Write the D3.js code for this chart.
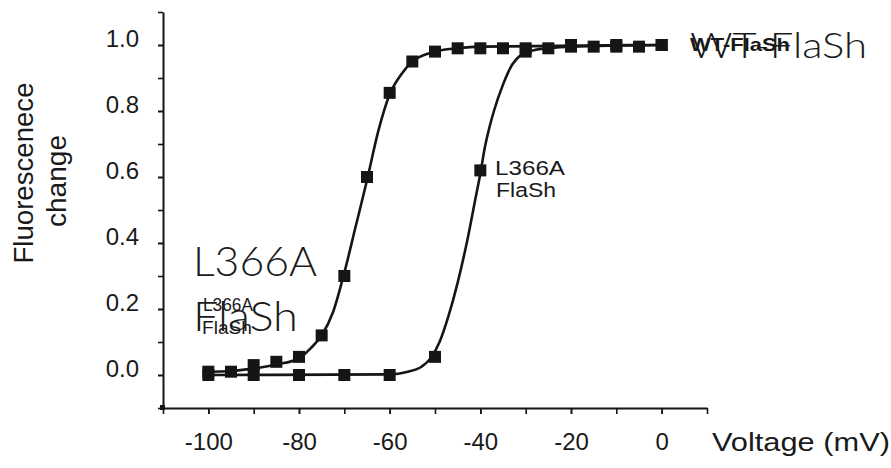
<!DOCTYPE html>
<html>
<head>
<meta charset="utf-8">
<script src="https://cdn.jsdelivr.net/npm/d3@7"></script>
<style>
  body { margin: 0; background: #fff; }
  svg { display: block; }
  text { font-family: Arial, "Liberation Sans", sans-serif; fill: #1a1a1a; }
  .thin { font-family: Lato, "Open Sans", sans-serif; font-weight: 300; }
</style>
</head>
<body>
<svg id="chart" width="891" height="468"></svg>
<script>
// tick labels
var xTicks = [-100, -80, -60, -40, -20, 0];
var xMinor = [-110, -100, -90, -80, -70, -60, -50, -40, -30, -20, -10, 0, 10];
var yTicks = [0, 0.2, 0.4, 0.6, 0.8, 1.0];
var yMinor = [-0.1, 0, 0.1, 0.2, 0.3, 0.4, 0.5, 0.6, 0.7, 0.8, 0.9, 1.0, 1.1];

// left curve (squares every 5 mV)
var wtVolts = [-100, -95, -90, -85, -80, -75, -70, -65, -60, -55, -50, -45, -40, -35, -30, -25, -20, -15, -10, -5, 0];
var wtVals  = [0.01, 0.01, 0.03, 0.04, 0.055, 0.12, 0.30, 0.60, 0.855, 0.95, 0.98, 0.99, 0.99, 0.99, 0.99, 0.99, 0.995, 0.995, 0.995, 0.995, 1.0];
// left fitted line
var wtFitVolts = [-100, -95, -90, -85, -80, -77.5, -75, -72.5, -70, -67.5, -65, -62.5, -60, -57.5, -55, -50, -45, -40, 0];
var wtFitVals  = [0.01, 0.012, 0.02, 0.032, 0.05, 0.08, 0.12, 0.19, 0.31, 0.45, 0.59, 0.74, 0.85, 0.91, 0.95, 0.98, 0.99, 0.995, 1.0];

// right curve (squares every 10 mV)
var mutVolts = [-100, -90, -80, -70, -60, -50, -40, -30, -20, -10, 0];
var mutVals  = [0.0, 0.0, 0.0, 0.0, 0.0, 0.055, 0.62, 0.98, 1.0, 1.0, 1.0];
var mutFitVolts = [-100, -60, -56, -53, -51, -49, -47, -45, -43, -41, -40, -39, -38, -37, -35, -33, -31, -28, -25, -20, 0];
var mutFitVals  = [0.0, 0.002, 0.01, 0.025, 0.05, 0.1, 0.18, 0.28, 0.40, 0.54, 0.61, 0.69, 0.75, 0.80, 0.88, 0.94, 0.97, 0.985, 0.99, 0.995, 1.0];

var svg = d3.select('#chart');
var ink = '#151515';

var x = d3.scaleLinear().domain([-110, 10]).range([163, 707]);
var y = d3.scaleLinear().domain([-0.1, 1.1]).range([408, 12]);

//////////
// Axes //
//////////

var styleAxis = function(g) {
  g.selectAll('path.domain').attr('stroke', ink).attr('stroke-width', 2);
  g.selectAll('line').attr('stroke', ink).attr('stroke-width', 1.6);
  g.selectAll('text').attr('fill', '#1a1a1a').style('font-size', '24px')
    .attr('font-family', null);
};

svg.append('g')
  .attr('transform', 'translate(0,408)')
  .call(d3.axisBottom(x).tickValues(xMinor).tickSize(6).tickSizeOuter(0).tickFormat(''))
  .call(styleAxis);

// plain hyphen, as in the original figure
svg.append('g')
  .attr('transform', 'translate(0,408)')
  .call(d3.axisBottom(x).tickValues(xTicks).tickSize(6).tickPadding(19).tickSizeOuter(0)
    .tickFormat(function(d) { return String(d); }))
  .call(styleAxis)
  .call(function(g) { g.select('path.domain').remove(); });

svg.append('g')
  .attr('transform', 'translate(163,0)')
  .call(d3.axisLeft(y).tickValues(yMinor).tickSize(5).tickSizeOuter(0).tickFormat(''))
  .call(styleAxis);

svg.append('g')
  .attr('transform', 'translate(163,0)')
  .call(d3.axisLeft(y).tickValues(yTicks).tickSize(5).tickPadding(19).tickFormat(d3.format('.1f')))
  .call(styleAxis)
  .call(function(g) {
    g.select('path.domain').remove();
    g.selectAll('text').attr('dy', '0.05em');
  });

// small blob at the origin corner
svg.append('rect')
  .attr('x', 160).attr('y', 405).attr('width', 5).attr('height', 5)
  .attr('fill', ink);

// axis titles
svg.append('text')
  .attr('x', 712).attr('y', 451)
  .attr('textLength', 178).attr('lengthAdjust', 'spacingAndGlyphs')
  .style('font-size', '25px')
  .text('Voltage (mV)');

svg.append('text')
  .attr('transform', 'translate(33,173) rotate(-90)')
  .attr('text-anchor', 'middle')
  .attr('textLength', 181).attr('lengthAdjust', 'spacingAndGlyphs')
  .style('font-size', '27px')
  .text('Fluorescenece');

svg.append('text')
  .attr('transform', 'translate(66,181) rotate(-90)')
  .attr('text-anchor', 'middle')
  .attr('textLength', 92).attr('lengthAdjust', 'spacingAndGlyphs')
  .style('font-size', '27px')
  .text('change');

///////////
// Lines //
///////////

var line = d3.line()
  .x(function(d) { return x(d[0]); })
  .y(function(d) { return y(d[1]); })
  .curve(d3.curveMonotoneX);

var drawSeries = function(fitV, fitY, volts, vals) {
  svg.append('path')
    .datum(d3.zip(fitV, fitY))
    .attr('d', line)
    .attr('fill', 'none')
    .attr('stroke', ink)
    .attr('stroke-width', 2.6);

  var s = 12;
  svg.append('g').selectAll('rect')
    .data(d3.zip(volts, vals))
    .enter().append('rect')
      .attr('x', function(d) { return x(d[0]) - s / 2; })
      .attr('y', function(d) { return y(d[1]) - s / 2; })
      .attr('width', s).attr('height', s)
      .attr('fill', ink);
};

drawSeries(mutFitVolts, mutFitVals, mutVolts, mutVals);
drawSeries(wtFitVolts, wtFitVals, wtVolts, wtVals);

/////////////////
// Annotations //
/////////////////

// WT-FlaSh: big thin label with a small bold copy over it
svg.append('text').attr('class', 'thin')
  .attr('x', 690).attr('y', 58)
  .attr('textLength', 177).attr('lengthAdjust', 'spacingAndGlyphs')
  .style('font-size', '36px').attr('fill', '#000')
  .text('WT-FlaSh');
svg.append('text')
  .attr('x', 690).attr('y', 51)
  .attr('textLength', 100).attr('lengthAdjust', 'spacingAndGlyphs')
  .style('font-size', '19px').style('font-weight', 'bold').attr('fill', '#555')
  .text('WT-FlaSh');

// L366A FlaSh on the left: big grey pair plus small black pair
svg.append('text').attr('class', 'thin')
  .attr('x', 193).attr('y', 276)
  .attr('textLength', 124).attr('lengthAdjust', 'spacingAndGlyphs')
  .style('font-size', '42px').attr('fill', '#8a8a8a')
  .text('L366A');
svg.append('text').attr('class', 'thin')
  .attr('x', 193).attr('y', 331)
  .attr('textLength', 105).attr('lengthAdjust', 'spacingAndGlyphs')
  .style('font-size', '42px').attr('fill', '#8a8a8a')
  .text('FlaSh');
svg.append('text')
  .attr('x', 203).attr('y', 311)
  .attr('textLength', 50).attr('lengthAdjust', 'spacingAndGlyphs')
  .style('font-size', '18px').attr('fill', '#222')
  .text('L366A');
svg.append('text')
  .attr('x', 202).attr('y', 334)
  .attr('textLength', 50).attr('lengthAdjust', 'spacingAndGlyphs')
  .style('font-size', '19px').attr('fill', '#222')
  .text('FlaSh');

// L366A FlaSh next to the right curve
svg.append('text')
  .attr('x', 495).attr('y', 175)
  .attr('textLength', 70).attr('lengthAdjust', 'spacingAndGlyphs')
  .style('font-size', '20px').attr('fill', '#333')
  .text('L366A');
svg.append('text')
  .attr('x', 496).attr('y', 197)
  .attr('textLength', 60).attr('lengthAdjust', 'spacingAndGlyphs')
  .style('font-size', '20px').attr('fill', '#333')
  .text('FlaSh');
</script>
</body>
</html>
